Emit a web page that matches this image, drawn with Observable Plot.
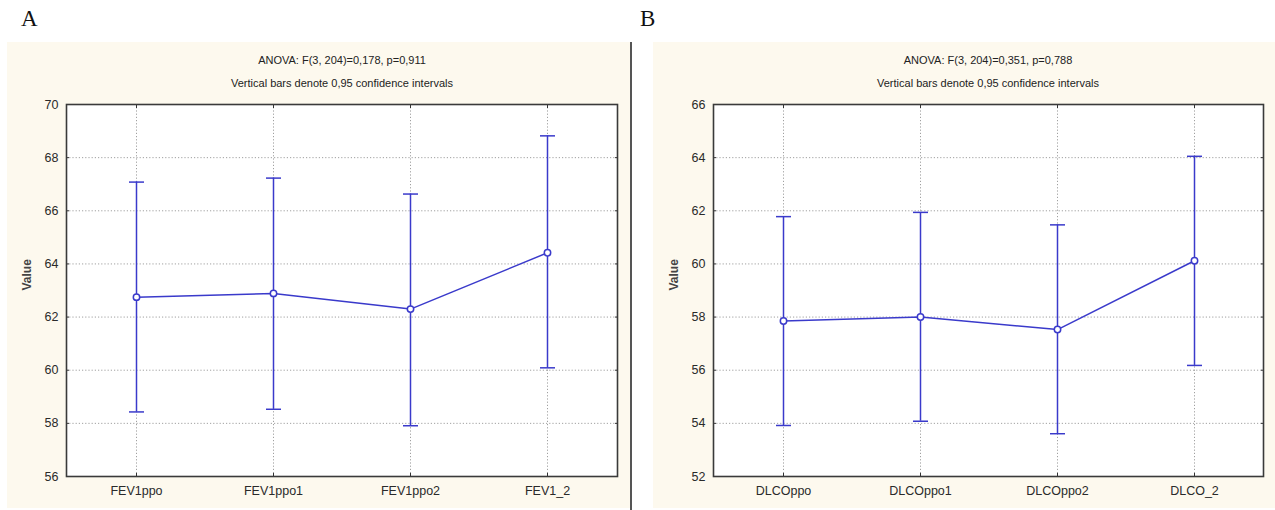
<!DOCTYPE html>
<html>
<head>
<meta charset="utf-8">
<script src="https://cdn.jsdelivr.net/npm/d3@7"></script>
<script src="https://cdn.jsdelivr.net/npm/@observablehq/plot@0.6"></script>
<style>
  body { margin: 0; background: #fff; }
  #wrap { position: relative; width: 1275px; height: 510px; overflow: hidden; background: #fff; }
  .plot { position: absolute; }
  .lbl { position: absolute; font-family: "Liberation Serif", "Times New Roman", serif; font-size: 23px; color: #111; }
  .ttl { position: absolute; font-family: "Liberation Sans", Arial, sans-serif; font-size: 11px; color: #222; transform: translateX(-50%); white-space: nowrap; }
  #divider { position: absolute; left: 630px; top: 42px; width: 1.5px; height: 468px; background: #555; }
</style>
</head>
<body>
<div id="wrap">
  <div class="lbl" style="left:21px;top:6px">A</div>
  <div class="lbl" style="left:640px;top:6px">B</div>
  <div id="plotA" class="plot" style="left:7px;top:42px"></div>
  <div id="plotB" class="plot" style="left:653px;top:42px"></div>
  <div id="divider"></div>
  <div class="ttl" style="left:342px;top:54px">ANOVA: F(3, 204)=0,178, p=0,911</div>
  <div class="ttl" style="left:342px;top:77px">Vertical bars denote 0,95 confidence intervals</div>
  <div class="ttl" style="left:988px;top:54px">ANOVA: F(3, 204)=0,351, p=0,788</div>
  <div class="ttl" style="left:988px;top:77px">Vertical bars denote 0,95 confidence intervals</div>
</div>
<script>
// Panel A data
const catsA = ["FEV1ppo", "FEV1ppo1", "FEV1ppo2", "FEV1_2"];
const meanA = [62.75, 62.89, 62.30, 64.42];
const lowA  = [58.43, 58.53, 57.91, 60.09];
const highA = [67.08, 67.23, 66.63, 68.82];
const yTicksA = [56, 58, 60, 62, 64, 66, 68, 70];

// Panel B data
const catsB = ["DLCOppo", "DLCOppo1", "DLCOppo2", "DLCO_2"];
const meanB = [57.85, 58.00, 57.53, 60.12];
const lowB  = [53.92, 54.08, 53.61, 56.18];
const highB = [61.78, 61.94, 61.47, 64.05];
const yTicksB = [52, 54, 56, 58, 60, 62, 64, 66];

const blue = "#3a3acb";
const beige = "#fdf9ee";

const capSymbol = {
  draw(context, size) {
    const w = Math.sqrt(size / Math.PI);
    context.moveTo(-w, 0);
    context.lineTo(w, 0);
  }
};

function makePlot(cats, mean, low, high, yTicks, width, mLeft, mRight) {
  const data = cats.map((c, i) => ({cat: c, mean: mean[i], lo: low[i], hi: high[i]}));
  const blank = () => "";
  return Plot.plot({
    width: width,
    height: 466,
    marginLeft: mLeft,
    marginRight: mRight,
    marginTop: 62,
    marginBottom: 32,
    style: {background: beige, fontFamily: "Liberation Sans, Arial, sans-serif", fontSize: "12.5px", color: "#333"},
    x: {type: "point", domain: cats, padding: 0.5},
    y: {domain: [yTicks[0], yTicks[yTicks.length - 1]], ticks: yTicks},
    marks: [
      Plot.frame({fill: "white", stroke: null}),
      Plot.gridY(yTicks, {stroke: "#888", strokeOpacity: 0.8, strokeDasharray: "1.2,2"}),
      Plot.gridX(cats, {stroke: "#888", strokeOpacity: 0.8, strokeDasharray: "1.2,2"}),
      // inward ticks on all sides
      Plot.axisY(yTicks, {anchor: "left", tickSize: 3, dx: 3, tickFormat: blank, label: null, stroke: "#333"}),
      Plot.axisY(yTicks, {anchor: "right", tickSize: 3, dx: -3, tickFormat: blank, label: null, stroke: "#333"}),
      Plot.axisX(cats, {anchor: "bottom", tickSize: 3, dy: -3, tickFormat: blank, label: null, stroke: "#333"}),
      Plot.axisX(cats, {anchor: "top", tickSize: 3, dy: 3, tickFormat: blank, label: null, stroke: "#333"}),
      // tick labels
      Plot.axisY(yTicks, {anchor: "left", tickSize: 0, tickPadding: 8, label: null, fill: "#2a2a2a", fontSize: 12.5}),
      Plot.axisX(cats, {anchor: "bottom", tickSize: 0, tickPadding: 10, label: null, fill: "#2a2a2a", fontSize: 12.5}),
      // axis title
      Plot.text(["Value"], {frameAnchor: "left", text: d => d, rotate: -90, dx: -39, fontSize: 12, fontWeight: "bold", fill: "#444"}),
      Plot.frame({stroke: "#3a3a3a", strokeWidth: 1.6}),
      // error bars
      Plot.ruleX(data, {x: "cat", y1: "lo", y2: "hi", stroke: blue, strokeWidth: 1.5}),
      Plot.dot(data, {x: "cat", y: "hi", symbol: capSymbol, r: 7.5, stroke: blue, strokeWidth: 1.5, fill: "none"}),
      Plot.dot(data, {x: "cat", y: "lo", symbol: capSymbol, r: 7.5, stroke: blue, strokeWidth: 1.5, fill: "none"}),
      Plot.line(data, {x: "cat", y: "mean", stroke: blue, strokeWidth: 1.5}),
      Plot.dot(data, {x: "cat", y: "mean", r: 3.2, fill: "white", stroke: blue, strokeWidth: 1.5})
    ]
  });
}

document.getElementById("plotA").appendChild(makePlot(catsA, meanA, lowA, highA, yTicksA, 624, 59, 14));
document.getElementById("plotB").appendChild(makePlot(catsB, meanB, lowB, highB, yTicksB, 622, 60, 12));
</script>
</body>
</html>
